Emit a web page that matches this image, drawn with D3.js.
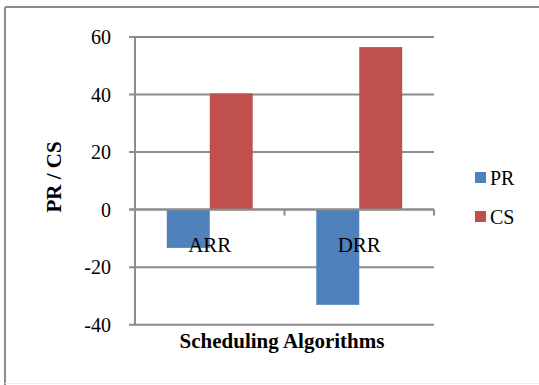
<!DOCTYPE html>
<html>
<head>
<meta charset="utf-8">
<script src="https://cdn.jsdelivr.net/npm/d3@7"></script>
<style>
  body { margin: 0; background: #fff; }
</style>
</head>
<body>
<div id="chart"></div>
<script>
var categories = ['ARR', 'DRR']
var series = ['PR', 'CS']
var prValues = [-13.3, -33.1]
var csValues = [40.4, 56.5]
var yTicks = [-40, -20, 0, 20, 40, 60]
var colors = ['#4f81bd', '#c0504d']

var width = 539
var height = 385
var serif = '"Liberation Serif", "Times New Roman", Times, "DejaVu Serif", serif'

var svg = d3.select('#chart')
	.append('svg')
	.attr('width', width)
	.attr('height', height)
	.style('font-family', serif)

// outer frame
svg.append('line').attr('x1', 5).attr('x2', 539).attr('y1', 7).attr('y2', 7)
	.style('stroke', '#8c8c8c').style('stroke-width', 2)
svg.append('line').attr('x1', 5).attr('x2', 5).attr('y1', 7).attr('y2', 385)
	.style('stroke', '#8c8c8c').style('stroke-width', 2)
svg.append('line').attr('x1', 5).attr('x2', 539).attr('y1', 383.5).attr('y2', 383.5)
	.style('stroke', '#ececec').style('stroke-width', 1)

var y = d3.scaleLinear()
	.domain([-40, 60])
	.range([324.7, 37])

var x0 = d3.scaleBand()
	.domain(categories)
	.range([135, 434])

var x1 = d3.scaleBand()
	.domain(series)
	.range([0, x0.bandwidth()])
	.paddingOuter(0.74)

// gridlines
svg.append('g')
	.selectAll('line')
	.data(yTicks)
	.enter()
	.append('line')
	.attr('x1', 129)
	.attr('x2', 434)
	.attr('y1', d => y(d))
	.attr('y2', d => y(d))
	.style('stroke', '#8c8c8c')
	.style('stroke-width', 2)

// y tick labels
svg.append('g')
	.selectAll('text')
	.data(yTicks)
	.enter()
	.append('text')
	.attr('x', 111)
	.attr('y', d => y(d) + 7)
	.attr('text-anchor', 'end')
	.attr('font-family', serif)
	.style('font-size', '20px')
	.text(d => d)

// bars
var rows = categories.map((c, i) => ({cat: c, vals: [prValues[i], csValues[i]]}))
svg.append('g')
	.selectAll('g')
	.data(rows)
	.enter()
	.append('g')
	.attr('transform', d => 'translate(' + x0(d.cat) + ',0)')
	.selectAll('rect')
	.data(d => d.vals.map((v, j) => ({key: series[j], value: v, idx: j})))
	.enter()
	.append('rect')
	.attr('x', d => x1(d.key))
	.attr('width', x1.bandwidth())
	.attr('y', d => y(Math.max(0, d.value)))
	.attr('height', d => Math.abs(y(d.value) - y(0)))
	.style('fill', d => colors[d.idx])

// y axis line
svg.append('line').attr('x1', 135).attr('x2', 135).attr('y1', y(60)).attr('y2', y(-40))
	.style('stroke', '#8c8c8c').style('stroke-width', 2)

// zero axis with category ticks
svg.append('line').attr('x1', 129).attr('x2', 434).attr('y1', y(0)).attr('y2', y(0))
	.style('stroke', '#8c8c8c').style('stroke-width', 2)
var bounds = categories.map(c => x0(c)).concat([x0.range()[1]])
svg.append('g')
	.selectAll('line')
	.data(bounds)
	.enter()
	.append('line')
	.attr('x1', d => d)
	.attr('x2', d => d)
	.attr('y1', y(0))
	.attr('y2', y(0) + 6)
	.style('stroke', '#8c8c8c')
	.style('stroke-width', 2)

// category labels
svg.append('g')
	.selectAll('text')
	.data(categories)
	.enter()
	.append('text')
	.attr('x', d => x0(d) + x0.bandwidth() / 2)
	.attr('y', 252)
	.attr('text-anchor', 'middle')
	.attr('font-family', serif)
	.style('font-size', '21px')
	.text(d => d)

// axis titles
svg.append('text')
	.attr('x', 282)
	.attr('y', 348)
	.attr('text-anchor', 'middle')
	.attr('font-family', serif)
	.style('font-size', '21px')
	.style('font-weight', 'bold')
	.text('Scheduling Algorithms')

svg.append('text')
	.attr('transform', 'translate(61,177) rotate(-90)')
	.attr('text-anchor', 'middle')
	.attr('font-family', serif)
	.style('font-size', '21px')
	.style('font-weight', 'bold')
	.text('PR / CS')

// legend
var legend = svg.append('g')
	.selectAll('g')
	.data(series)
	.enter()
	.append('g')
	.attr('transform', (d, i) => 'translate(475,' + (172 + i * 39) + ')')
legend.append('rect')
	.attr('width', 11)
	.attr('height', 11)
	.style('fill', (d, i) => colors[i])
legend.append('text')
	.attr('x', 15)
	.attr('y', 13)
	.attr('font-family', serif)
	.style('font-size', '20px')
	.text(d => d)
</script>
</body>
</html>
